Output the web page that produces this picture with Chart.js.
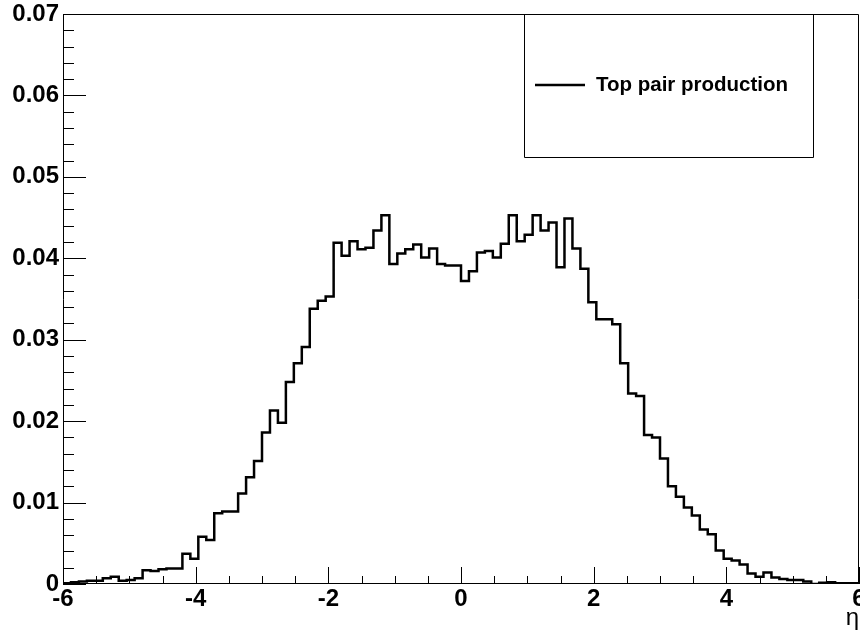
<!DOCTYPE html>
<html>
<head>
<meta charset="utf-8">
<script src="https://cdn.jsdelivr.net/npm/chart.js@4.4.1/dist/chart.umd.min.js"></script>
<style>
  html, body { margin: 0; padding: 0; background: #fff; }
</style>
</head>
<body>
<canvas id="c" width="860" height="642"></canvas>
<script>
// histogram binning
const xMin = -6, xMax = 6, nBins = 100;
// bin contents (one per bin, left to right)
const binValues = [
  0.0001, 0.0002, 0.0003, 0.0004, 0.0004, 0.0007, 0.0009, 0.0004, 0.0005, 0.0007,
  0.0017, 0.0016, 0.0018, 0.0019, 0.0019, 0.0037, 0.0031, 0.0058, 0.0054, 0.0087,
  0.0089, 0.0089, 0.0111, 0.0131, 0.0151, 0.0186, 0.0213, 0.0198, 0.0248, 0.0271,
  0.0291, 0.0338, 0.0348, 0.0353, 0.0419, 0.0403, 0.0421, 0.0411, 0.0413, 0.0434,
  0.0453, 0.0393, 0.0406, 0.0411, 0.0417, 0.0401, 0.0412, 0.0393, 0.0391, 0.0391,
  0.0372, 0.0384, 0.0407, 0.0409, 0.0401, 0.0418, 0.0453, 0.0421, 0.0429, 0.0453,
  0.0434, 0.0444, 0.0389, 0.0449, 0.0412, 0.0387, 0.0346, 0.0325, 0.0325, 0.0319,
  0.0271, 0.0234, 0.0231, 0.0183, 0.0180, 0.0154, 0.0120, 0.0107, 0.0094, 0.0084,
  0.0067, 0.0061, 0.0041, 0.0031, 0.0029, 0.0024, 0.0013, 0.0009, 0.0014, 0.0008,
  0.0006, 0.0005, 0.0005, 0.0003, 0.0000, 0.00015, 0.0002, 0.0001, 0.0001, 0.0001
];
const xTicks = [-6, -4, -2, 0, 2, 4, 6];
const yTicks = [0, 0.01, 0.02, 0.03, 0.04, 0.05, 0.06, 0.07];
const seriesLabel = "Top pair production";
const xTitle = "\u03b7";

const FONT = "'Liberation Sans', Arial, Helvetica, sans-serif";

// step outline: start and end on the baseline like a ROOT "HIST"
const binWidth = (xMax - xMin) / nBins;
const points = [{ x: xMin, y: 0 }];
binValues.forEach((v, i) => points.push({ x: xMin + i * binWidth, y: v }));
points.push({ x: xMax, y: binValues[binValues.length - 1] });
points.push({ x: xMax, y: 0 });

const rootFrame = {
  id: "rootFrame",
  afterDatasetsDraw(chart) {
    const { ctx, chartArea: a, scales } = chart;
    const xs = scales.x, ys = scales.y;
    ctx.save();
    ctx.strokeStyle = "#000";
    ctx.lineWidth = 1;

    // frame
    ctx.beginPath();
    ctx.moveTo(a.left + 0.5, a.bottom);
    ctx.lineTo(a.left + 0.5, a.top + 0.5);
    ctx.lineTo(a.right - 0.5, a.top + 0.5);
    ctx.lineTo(a.right - 0.5, a.bottom);
    ctx.moveTo(a.left, a.bottom - 0.5);
    ctx.lineTo(a.right, a.bottom - 0.5);
    ctx.stroke();

    // inward ticks on x
    ctx.beginPath();
    for (let v = xMin; v <= xMax + 1e-9; v += 0.5) {
      const px = Math.round(xs.getPixelForValue(v)) + 0.5;
      const major = Math.abs(v / 2 - Math.round(v / 2)) < 1e-6;
      ctx.moveTo(px, a.bottom);
      ctx.lineTo(px, a.bottom - (major ? 17 : 8));
    }
    // inward ticks on y
    for (let k = 0; k <= 35; k++) {
      const v = k * 0.002;
      const py = Math.round(ys.getPixelForValue(v)) + 0.5;
      const major = k % 5 === 0;
      ctx.moveTo(a.left, py);
      ctx.lineTo(a.left + (major ? 23 : 11), py);
    }
    ctx.stroke();

    // legend box
    ctx.beginPath();
    ctx.rect(524.5, a.top + 0.5, 289, 143);
    ctx.stroke();
    ctx.beginPath();
    ctx.lineWidth = 2.5;
    ctx.moveTo(535, 85);
    ctx.lineTo(585, 85);
    ctx.stroke();
    ctx.fillStyle = "#000";
    ctx.font = "bold 20.5px " + FONT;
    ctx.textAlign = "left";
    ctx.textBaseline = "middle";
    ctx.fillText(chart.data.datasets[0].label, 596, 85);

    // axis title
    ctx.font = "24px " + FONT;
    ctx.textAlign = "right";
    ctx.textBaseline = "alphabetic";
    ctx.fillText(xTitle, 859, 625);
    ctx.restore();
  }
};

new Chart(document.getElementById("c"), {
  type: "line",
  data: {
    datasets: [{
      label: seriesLabel,
      data: points,
      stepped: true,
      borderColor: "#000",
      borderWidth: 2.5,
      pointRadius: 0,
      fill: false,
      tension: 0
    }]
  },
  options: {
    responsive: false,
    animation: false,
    devicePixelRatio: 1,
    layout: { padding: { top: 14, right: 1, left: 0, bottom: 0 } },
    plugins: { legend: { display: false }, tooltip: { enabled: false } },
    scales: {
      x: {
        type: "linear",
        min: xMin,
        max: xMax,
        afterBuildTicks: s => { s.ticks = xTicks.map(v => ({ value: v })); },
        afterFit: s => { s.height = 58; s.paddingLeft = 0; s.paddingRight = 0; },
        ticks: {
          color: "#000",
          font: { family: FONT, size: 24, weight: "bold" },
          padding: 1,
          maxRotation: 0,
          autoSkip: false,
          callback: v => String(v)
        },
        grid: { display: false, drawTicks: false },
        border: { display: false }
      },
      y: {
        min: 0,
        max: 0.07,
        afterBuildTicks: s => { s.ticks = yTicks.map(v => ({ value: v })); },
        afterFit: s => { s.width = 63; s.paddingTop = 0; s.paddingBottom = 0; },
        ticks: {
          color: "#000",
          font: { family: FONT, size: 24, weight: "bold" },
          padding: 4,
          autoSkip: false,
          callback: v => v === 0 ? "0" : v.toFixed(2)
        },
        grid: { display: false, drawTicks: false },
        border: { display: false }
      }
    }
  },
  plugins: [rootFrame]
});
</script>
</body>
</html>
